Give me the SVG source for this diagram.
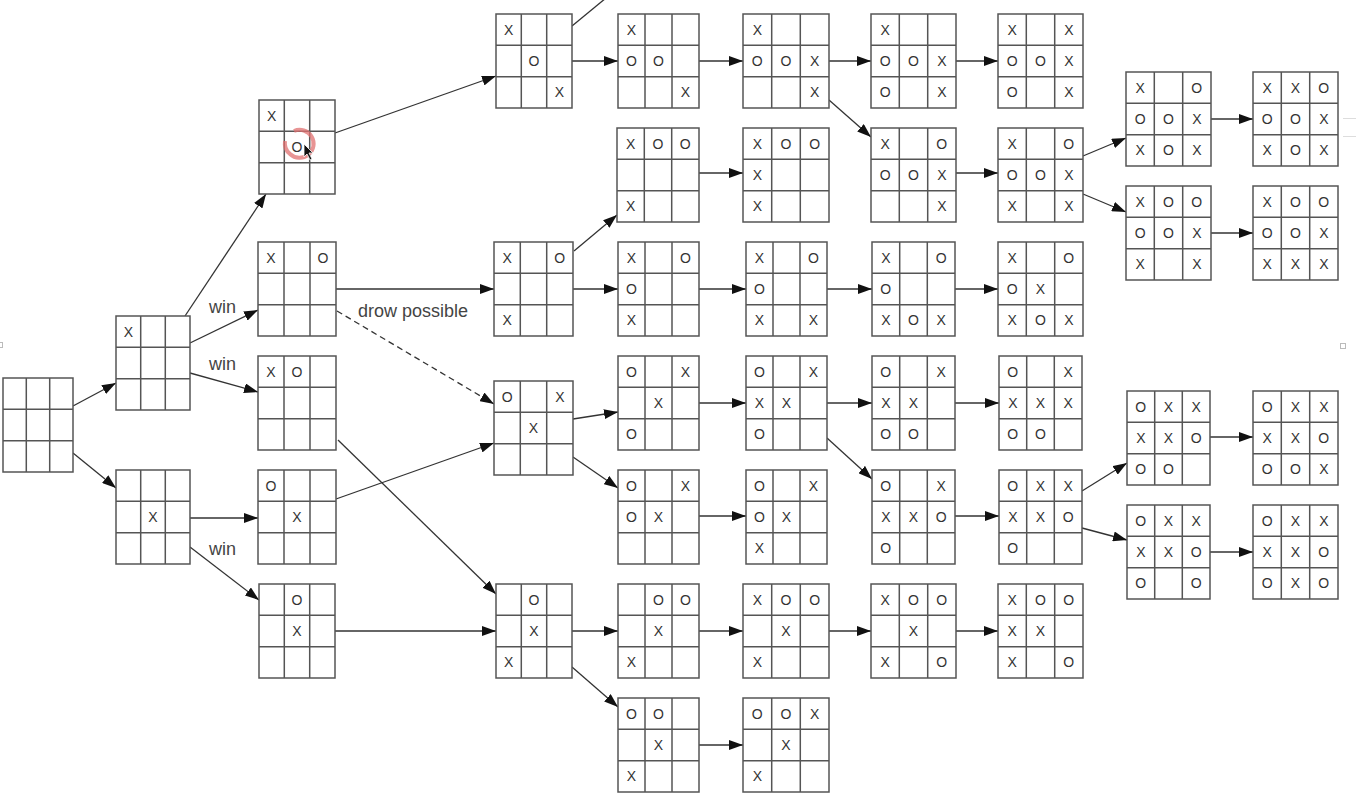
<svg xmlns="http://www.w3.org/2000/svg" xmlns:xlink="http://www.w3.org/1999/xlink" width="1356" height="794" viewBox="0 0 1356 794">
<style>
.b{fill:#fff;stroke:#555;stroke-width:1.5}
.m{font-family:"Liberation Sans",Arial,sans-serif;font-size:14px;fill:#333;text-anchor:middle;dominant-baseline:central}
.c{fill:none;stroke:#333;stroke-width:1.3}
.d{stroke-dasharray:6 4}
.l{font-family:"Liberation Sans",Arial,sans-serif;font-size:18px;fill:#444}
</style>
<defs>
<marker id="ah" markerUnits="userSpaceOnUse" markerWidth="14" markerHeight="10" refX="14" refY="5" orient="auto"><path d="M0 0L14 5L0 10Z" fill="#111"/></marker>
<path id="g70" class="b" d="M0 0H70V94H0Z M23.3 0V94 M46.7 0V94 M0 31.3H70 M0 62.7H70"/>
<path id="g74" class="b" d="M0 0H74V94H0Z M24.7 0V94 M49.3 0V94 M0 31.3H74 M0 62.7H74"/>
<path id="g76" class="b" d="M0 0H76V94H0Z M25.3 0V94 M50.7 0V94 M0 31.3H76 M0 62.7H76"/>
<path id="g78" class="b" d="M0 0H78V94H0Z M26 0V94 M52 0V94 M0 31.3H78 M0 62.7H78"/>
<path id="g79" class="b" d="M0 0H79V94H0Z M26.3 0V94 M52.7 0V94 M0 31.3H79 M0 62.7H79"/>
<path id="g81" class="b" d="M0 0H81V94H0Z M27 0V94 M54 0V94 M0 31.3H81 M0 62.7H81"/>
<path id="g82" class="b" d="M0 0H82V94H0Z M27.3 0V94 M54.7 0V94 M0 31.3H82 M0 62.7H82"/>
<path id="g83" class="b" d="M0 0H83V94H0Z M27.7 0V94 M55.3 0V94 M0 31.3H83 M0 62.7H83"/>
<path id="g85" class="b" d="M0 0H85V94H0Z M28.3 0V94 M56.7 0V94 M0 31.3H85 M0 62.7H85"/>
<path id="g86" class="b" d="M0 0H86V94H0Z M28.7 0V94 M57.3 0V94 M0 31.3H86 M0 62.7H86"/>
</defs>
<rect width="1356" height="794" fill="#fff"/>

<g id="connectors">
<path class="c" marker-end="url(#ah)" d="M73 406L116 383"/>
<path class="c" marker-end="url(#ah)" d="M73 453L116 488"/>
<path class="c" marker-end="url(#ah)" d="M185 316L266 194"/>
<path class="c" marker-end="url(#ah)" d="M190 343L258 310"/>
<path class="c" marker-end="url(#ah)" d="M190 373L258 392"/>
<path class="c" marker-end="url(#ah)" d="M190 518L258 518"/>
<path class="c" marker-end="url(#ah)" d="M190 547L259 600"/>
<path class="c" marker-end="url(#ah)" d="M335 133L496 76"/>
<path class="c" marker-end="url(#ah)" d="M336 289L494 289"/>
<path class="c d" marker-end="url(#ah)" d="M337 311L494 404"/>
<path class="c" marker-end="url(#ah)" d="M338 440L496 594"/>
<path class="c" marker-end="url(#ah)" d="M336 499L494 443"/>
<path class="c" marker-end="url(#ah)" d="M335 631L496 631"/>
<path class="c" marker-end="url(#ah)" d="M572 61L618 61"/>
<path class="c" d="M572 26L606 -2"/>
<path class="c" marker-end="url(#ah)" d="M574 251L617 215"/>
<path class="c" marker-end="url(#ah)" d="M573 289L618 289"/>
<path class="c" marker-end="url(#ah)" d="M573 419L618 412"/>
<path class="c" marker-end="url(#ah)" d="M573 457L618 488"/>
<path class="c" marker-end="url(#ah)" d="M572 631L618 631"/>
<path class="c" marker-end="url(#ah)" d="M572 667L618 707"/>
<path class="c" marker-end="url(#ah)" d="M699 61L743 61"/>
<path class="c" marker-end="url(#ah)" d="M699 173L743 173"/>
<path class="c" marker-end="url(#ah)" d="M699 289L746 289"/>
<path class="c" marker-end="url(#ah)" d="M699 403L746 403"/>
<path class="c" marker-end="url(#ah)" d="M699 516L746 516"/>
<path class="c" marker-end="url(#ah)" d="M699 631L743 631"/>
<path class="c" marker-end="url(#ah)" d="M699 745L743 745"/>
<path class="c" marker-end="url(#ah)" d="M829 61L871 61"/>
<path class="c" marker-end="url(#ah)" d="M829 100L871 137"/>
<path class="c" marker-end="url(#ah)" d="M827 289L872 289"/>
<path class="c" marker-end="url(#ah)" d="M827 403L872 403"/>
<path class="c" marker-end="url(#ah)" d="M827 438L872 479"/>
<path class="c" marker-end="url(#ah)" d="M829 631L871 631"/>
<path class="c" marker-end="url(#ah)" d="M956 61L998 61"/>
<path class="c" marker-end="url(#ah)" d="M956 173L998 173"/>
<path class="c" marker-end="url(#ah)" d="M955 289L998 289"/>
<path class="c" marker-end="url(#ah)" d="M955 403L999 403"/>
<path class="c" marker-end="url(#ah)" d="M955 516L999 516"/>
<path class="c" marker-end="url(#ah)" d="M956 631L998 631"/>
<path class="c" marker-end="url(#ah)" d="M1083 156L1126 138"/>
<path class="c" marker-end="url(#ah)" d="M1083 194L1126 212"/>
<path class="c" marker-end="url(#ah)" d="M1211 119L1253 119"/>
<path class="c" marker-end="url(#ah)" d="M1211 233L1253 233"/>
<path class="c" marker-end="url(#ah)" d="M1082 491L1127 463"/>
<path class="c" marker-end="url(#ah)" d="M1082 528L1127 540"/>
<path class="c" marker-end="url(#ah)" d="M1210 437L1253 437"/>
<path class="c" marker-end="url(#ah)" d="M1210 552L1253 552"/>
<text class="l" x="209" y="313">win</text>
<text class="l" x="209" y="370">win</text>
<text class="l" x="209" y="555">win</text>
<text class="l" x="358" y="317">drow possible</text>
</g>

<g id="root" transform="translate(3,378)"><use xlink:href="#g70"/></g>
<g id="p1" transform="translate(116,316)"><use xlink:href="#g74"/><text class="m" x="12.3" y="15.7">X</text></g>
<g id="p2" transform="translate(116,470)"><use xlink:href="#g74"/><text class="m" x="37" y="47">X</text></g>

<g id="A" transform="translate(259,100)"><use xlink:href="#g76"/><text class="m" x="12.7" y="15.7">X</text><text class="m" x="38" y="47">O</text></g>
<g id="B" transform="translate(258,242)"><use xlink:href="#g78"/><text class="m" x="13" y="15.7">X</text><text class="m" x="65" y="15.7">O</text></g>
<g id="C" transform="translate(258,356)"><use xlink:href="#g78"/><text class="m" x="13" y="15.7">X</text><text class="m" x="39" y="15.7">O</text></g>
<g id="D" transform="translate(258,470)"><use xlink:href="#g78"/><text class="m" x="13" y="15.7">O</text><text class="m" x="39" y="47">X</text></g>
<g id="E" transform="translate(259,584)"><use xlink:href="#g76"/><text class="m" x="38" y="15.7">O</text><text class="m" x="38" y="47">X</text></g>

<g id="F" transform="translate(496,14)"><use xlink:href="#g76"/><text class="m" x="12.7" y="15.7">X</text><text class="m" x="38" y="47">O</text><text class="m" x="63.3" y="78.3">X</text></g>
<g id="G" transform="translate(494,242)"><use xlink:href="#g79"/><text class="m" x="13.2" y="15.7">X</text><text class="m" x="65.8" y="15.7">O</text><text class="m" x="13.2" y="78.3">X</text></g>
<g id="H" transform="translate(494,381)"><use xlink:href="#g79"/><text class="m" x="13.2" y="15.7">O</text><text class="m" x="65.8" y="15.7">X</text><text class="m" x="39.5" y="47">X</text></g>
<g id="I" transform="translate(496,584)"><use xlink:href="#g76"/><text class="m" x="38" y="15.7">O</text><text class="m" x="38" y="47">X</text><text class="m" x="12.7" y="78.3">X</text></g>

<g id="J" transform="translate(618,14)"><use xlink:href="#g81"/><text class="m" x="13.5" y="15.7">X</text><text class="m" x="13.5" y="47">O</text><text class="m" x="40.5" y="47">O</text><text class="m" x="67.5" y="78.3">X</text></g>
<g id="K" transform="translate(617,128)"><use xlink:href="#g82"/><text class="m" x="13.7" y="15.7">X</text><text class="m" x="41" y="15.7">O</text><text class="m" x="68.3" y="15.7">O</text><text class="m" x="13.7" y="78.3">X</text></g>
<g id="L" transform="translate(618,242)"><use xlink:href="#g81"/><text class="m" x="13.5" y="15.7">X</text><text class="m" x="67.5" y="15.7">O</text><text class="m" x="13.5" y="47">O</text><text class="m" x="13.5" y="78.3">X</text></g>
<g id="M" transform="translate(618,356)"><use xlink:href="#g81"/><text class="m" x="13.5" y="15.7">O</text><text class="m" x="67.5" y="15.7">X</text><text class="m" x="40.5" y="47">X</text><text class="m" x="13.5" y="78.3">O</text></g>
<g id="N" transform="translate(618,470)"><use xlink:href="#g81"/><text class="m" x="13.5" y="15.7">O</text><text class="m" x="67.5" y="15.7">X</text><text class="m" x="13.5" y="47">O</text><text class="m" x="40.5" y="47">X</text></g>
<g id="P" transform="translate(618,584)"><use xlink:href="#g81"/><text class="m" x="40.5" y="15.7">O</text><text class="m" x="67.5" y="15.7">O</text><text class="m" x="40.5" y="47">X</text><text class="m" x="13.5" y="78.3">X</text></g>
<g id="Q" transform="translate(618,698)"><use xlink:href="#g81"/><text class="m" x="13.5" y="15.7">O</text><text class="m" x="40.5" y="15.7">O</text><text class="m" x="40.5" y="47">X</text><text class="m" x="13.5" y="78.3">X</text></g>

<g id="R" transform="translate(743,14)"><use xlink:href="#g86"/><text class="m" x="14.3" y="15.7">X</text><text class="m" x="14.3" y="47">O</text><text class="m" x="43" y="47">O</text><text class="m" x="71.7" y="47">X</text><text class="m" x="71.7" y="78.3">X</text></g>
<g id="S" transform="translate(743,128)"><use xlink:href="#g86"/><text class="m" x="14.3" y="15.7">X</text><text class="m" x="43" y="15.7">O</text><text class="m" x="71.7" y="15.7">O</text><text class="m" x="14.3" y="47">X</text><text class="m" x="14.3" y="78.3">X</text></g>
<g id="T" transform="translate(746,242)"><use xlink:href="#g81"/><text class="m" x="13.5" y="15.7">X</text><text class="m" x="67.5" y="15.7">O</text><text class="m" x="13.5" y="47">O</text><text class="m" x="13.5" y="78.3">X</text><text class="m" x="67.5" y="78.3">X</text></g>
<g id="U" transform="translate(746,356)"><use xlink:href="#g81"/><text class="m" x="13.5" y="15.7">O</text><text class="m" x="67.5" y="15.7">X</text><text class="m" x="13.5" y="47">X</text><text class="m" x="40.5" y="47">X</text><text class="m" x="13.5" y="78.3">O</text></g>
<g id="V" transform="translate(746,470)"><use xlink:href="#g81"/><text class="m" x="13.5" y="15.7">O</text><text class="m" x="67.5" y="15.7">X</text><text class="m" x="13.5" y="47">O</text><text class="m" x="40.5" y="47">X</text><text class="m" x="13.5" y="78.3">X</text></g>
<g id="W" transform="translate(743,584)"><use xlink:href="#g86"/><text class="m" x="14.3" y="15.7">X</text><text class="m" x="43" y="15.7">O</text><text class="m" x="71.7" y="15.7">O</text><text class="m" x="43" y="47">X</text><text class="m" x="14.3" y="78.3">X</text></g>
<g id="Y" transform="translate(743,698)"><use xlink:href="#g86"/><text class="m" x="14.3" y="15.7">O</text><text class="m" x="43" y="15.7">O</text><text class="m" x="71.7" y="15.7">X</text><text class="m" x="43" y="47">X</text><text class="m" x="14.3" y="78.3">X</text></g>

<g id="Z1" transform="translate(871,14)"><use xlink:href="#g85"/><text class="m" x="14.2" y="15.7">X</text><text class="m" x="14.2" y="47">O</text><text class="m" x="42.5" y="47">O</text><text class="m" x="70.8" y="47">X</text><text class="m" x="14.2" y="78.3">O</text><text class="m" x="70.8" y="78.3">X</text></g>
<g id="Z2" transform="translate(871,128)"><use xlink:href="#g85"/><text class="m" x="14.2" y="15.7">X</text><text class="m" x="70.8" y="15.7">O</text><text class="m" x="14.2" y="47">O</text><text class="m" x="42.5" y="47">O</text><text class="m" x="70.8" y="47">X</text><text class="m" x="70.8" y="78.3">X</text></g>
<g id="Z3" transform="translate(872,242)"><use xlink:href="#g83"/><text class="m" x="13.8" y="15.7">X</text><text class="m" x="69.2" y="15.7">O</text><text class="m" x="13.8" y="47">O</text><text class="m" x="13.8" y="78.3">X</text><text class="m" x="41.5" y="78.3">O</text><text class="m" x="69.2" y="78.3">X</text></g>
<g id="Z4" transform="translate(872,356)"><use xlink:href="#g83"/><text class="m" x="13.8" y="15.7">O</text><text class="m" x="69.2" y="15.7">X</text><text class="m" x="13.8" y="47">X</text><text class="m" x="41.5" y="47">X</text><text class="m" x="13.8" y="78.3">O</text><text class="m" x="41.5" y="78.3">O</text></g>
<g id="Z5" transform="translate(872,470)"><use xlink:href="#g83"/><text class="m" x="13.8" y="15.7">O</text><text class="m" x="69.2" y="15.7">X</text><text class="m" x="13.8" y="47">X</text><text class="m" x="41.5" y="47">X</text><text class="m" x="69.2" y="47">O</text><text class="m" x="13.8" y="78.3">O</text></g>
<g id="Z6" transform="translate(871,584)"><use xlink:href="#g85"/><text class="m" x="14.2" y="15.7">X</text><text class="m" x="42.5" y="15.7">O</text><text class="m" x="70.8" y="15.7">O</text><text class="m" x="42.5" y="47">X</text><text class="m" x="14.2" y="78.3">X</text><text class="m" x="70.8" y="78.3">O</text></g>

<g id="A1" transform="translate(998,14)"><use xlink:href="#g85"/><text class="m" x="14.2" y="15.7">X</text><text class="m" x="70.8" y="15.7">X</text><text class="m" x="14.2" y="47">O</text><text class="m" x="42.5" y="47">O</text><text class="m" x="70.8" y="47">X</text><text class="m" x="14.2" y="78.3">O</text><text class="m" x="70.8" y="78.3">X</text></g>
<g id="A2" transform="translate(998,128)"><use xlink:href="#g85"/><text class="m" x="14.2" y="15.7">X</text><text class="m" x="70.8" y="15.7">O</text><text class="m" x="14.2" y="47">O</text><text class="m" x="42.5" y="47">O</text><text class="m" x="70.8" y="47">X</text><text class="m" x="14.2" y="78.3">X</text><text class="m" x="70.8" y="78.3">X</text></g>
<g id="A3" transform="translate(998,242)"><use xlink:href="#g85"/><text class="m" x="14.2" y="15.7">X</text><text class="m" x="70.8" y="15.7">O</text><text class="m" x="14.2" y="47">O</text><text class="m" x="42.5" y="47">X</text><text class="m" x="14.2" y="78.3">X</text><text class="m" x="42.5" y="78.3">O</text><text class="m" x="70.8" y="78.3">X</text></g>
<g id="A4" transform="translate(999,356)"><use xlink:href="#g83"/><text class="m" x="13.8" y="15.7">O</text><text class="m" x="69.2" y="15.7">X</text><text class="m" x="13.8" y="47">X</text><text class="m" x="41.5" y="47">X</text><text class="m" x="69.2" y="47">X</text><text class="m" x="13.8" y="78.3">O</text><text class="m" x="41.5" y="78.3">O</text></g>
<g id="A5" transform="translate(999,470)"><use xlink:href="#g83"/><text class="m" x="13.8" y="15.7">O</text><text class="m" x="41.5" y="15.7">X</text><text class="m" x="69.2" y="15.7">X</text><text class="m" x="13.8" y="47">X</text><text class="m" x="41.5" y="47">X</text><text class="m" x="69.2" y="47">O</text><text class="m" x="13.8" y="78.3">O</text></g>
<g id="A6" transform="translate(998,584)"><use xlink:href="#g85"/><text class="m" x="14.2" y="15.7">X</text><text class="m" x="42.5" y="15.7">O</text><text class="m" x="70.8" y="15.7">O</text><text class="m" x="14.2" y="47">X</text><text class="m" x="42.5" y="47">X</text><text class="m" x="14.2" y="78.3">X</text><text class="m" x="70.8" y="78.3">O</text></g>

<g id="B1" transform="translate(1126,72)"><use xlink:href="#g85"/><text class="m" x="14.2" y="15.7">X</text><text class="m" x="70.8" y="15.7">O</text><text class="m" x="14.2" y="47">O</text><text class="m" x="42.5" y="47">O</text><text class="m" x="70.8" y="47">X</text><text class="m" x="14.2" y="78.3">X</text><text class="m" x="42.5" y="78.3">O</text><text class="m" x="70.8" y="78.3">X</text></g>
<g id="B2" transform="translate(1126,186)"><use xlink:href="#g85"/><text class="m" x="14.2" y="15.7">X</text><text class="m" x="42.5" y="15.7">O</text><text class="m" x="70.8" y="15.7">O</text><text class="m" x="14.2" y="47">O</text><text class="m" x="42.5" y="47">O</text><text class="m" x="70.8" y="47">X</text><text class="m" x="14.2" y="78.3">X</text><text class="m" x="70.8" y="78.3">X</text></g>
<g id="B3" transform="translate(1127,391)"><use xlink:href="#g83"/><text class="m" x="13.8" y="15.7">O</text><text class="m" x="41.5" y="15.7">X</text><text class="m" x="69.2" y="15.7">X</text><text class="m" x="13.8" y="47">X</text><text class="m" x="41.5" y="47">X</text><text class="m" x="69.2" y="47">O</text><text class="m" x="13.8" y="78.3">O</text><text class="m" x="41.5" y="78.3">O</text></g>
<g id="B4" transform="translate(1127,505)"><use xlink:href="#g83"/><text class="m" x="13.8" y="15.7">O</text><text class="m" x="41.5" y="15.7">X</text><text class="m" x="69.2" y="15.7">X</text><text class="m" x="13.8" y="47">X</text><text class="m" x="41.5" y="47">X</text><text class="m" x="69.2" y="47">O</text><text class="m" x="13.8" y="78.3">O</text><text class="m" x="69.2" y="78.3">O</text></g>

<g id="C1" transform="translate(1253,72)"><use xlink:href="#g85"/><text class="m" x="14.2" y="15.7">X</text><text class="m" x="42.5" y="15.7">X</text><text class="m" x="70.8" y="15.7">O</text><text class="m" x="14.2" y="47">O</text><text class="m" x="42.5" y="47">O</text><text class="m" x="70.8" y="47">X</text><text class="m" x="14.2" y="78.3">X</text><text class="m" x="42.5" y="78.3">O</text><text class="m" x="70.8" y="78.3">X</text></g>
<g id="C2" transform="translate(1253,186)"><use xlink:href="#g85"/><text class="m" x="14.2" y="15.7">X</text><text class="m" x="42.5" y="15.7">O</text><text class="m" x="70.8" y="15.7">O</text><text class="m" x="14.2" y="47">O</text><text class="m" x="42.5" y="47">O</text><text class="m" x="70.8" y="47">X</text><text class="m" x="14.2" y="78.3">X</text><text class="m" x="42.5" y="78.3">X</text><text class="m" x="70.8" y="78.3">X</text></g>
<g id="C3" transform="translate(1253,391)"><use xlink:href="#g85"/><text class="m" x="14.2" y="15.7">O</text><text class="m" x="42.5" y="15.7">X</text><text class="m" x="70.8" y="15.7">X</text><text class="m" x="14.2" y="47">X</text><text class="m" x="42.5" y="47">X</text><text class="m" x="70.8" y="47">O</text><text class="m" x="14.2" y="78.3">O</text><text class="m" x="42.5" y="78.3">O</text><text class="m" x="70.8" y="78.3">X</text></g>
<g id="C4" transform="translate(1253,505)"><use xlink:href="#g85"/><text class="m" x="14.2" y="15.7">O</text><text class="m" x="42.5" y="15.7">X</text><text class="m" x="70.8" y="15.7">X</text><text class="m" x="14.2" y="47">X</text><text class="m" x="42.5" y="47">X</text><text class="m" x="70.8" y="47">O</text><text class="m" x="14.2" y="78.3">O</text><text class="m" x="42.5" y="78.3">X</text><text class="m" x="70.8" y="78.3">O</text></g>

<g id="cursor">
<path d="M294 131A14 14 0 1 1 290 154A14 14 0 0 1 285 141" fill="none" stroke="#e07070" stroke-opacity="0.75" stroke-width="4"/>
<path d="M304 144L304 157L307 154L310 160L312 159L309 153L313 153Z" fill="#111" stroke="#fff" stroke-width="0.8"/>
</g>
<g id="handles" fill="none" stroke="#bbb" stroke-width="1">
<rect x="1340.5" y="343.5" width="5" height="5"/>
<rect x="-2.5" y="342.5" width="5" height="5"/>
<path d="M1343 118.5H1356M1343 136.5H1356" stroke="#ddd"/>
</g>
</svg>
